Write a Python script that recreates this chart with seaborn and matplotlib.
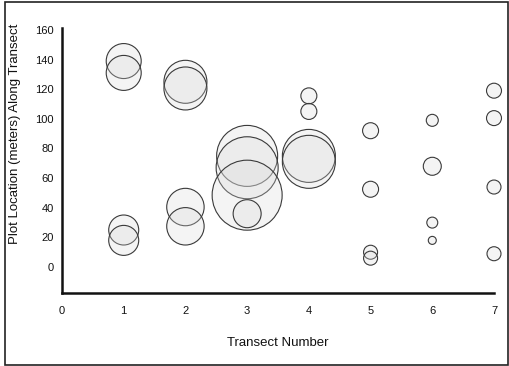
import matplotlib
matplotlib.use("Agg")
import matplotlib.pyplot as plt
from matplotlib.patches import Rectangle
import seaborn as sns
import pandas as pd

# Data
transect = [1, 1, 1, 1,
            2, 2, 2, 2,
            3, 3, 3, 3,
            4, 4, 4, 4,
            5, 5, 5, 5,
            6, 6, 6, 6,
            7, 7, 7, 7]
location = [139, 131, 25, 18,
            125, 120.5, 40.5, 27.5,
            75, 67, 48.5, 36,
            75, 71, 115.5, 105,
            92, 52.5, 10, 6,
            99, 68, 30, 18,
            119, 100.5, 54, 9]
abundance = [30.6, 30.6, 22.5, 22.5,
             46.2, 46.2, 35.0, 35.0,
             93.0, 96.1, 122.5, 19.6,
             70.2, 70.2, 6.4, 6.4,
             6.4, 6.4, 4.9, 4.9,
             3.6, 8.1, 3.0, 1.6,
             5.6, 5.6, 4.9, 4.9]
x_ticks = [0, 1, 2, 3, 4, 5, 6, 7]
y_ticks = [0, 20, 40, 60, 80, 100, 120, 140, 160]

df = pd.DataFrame({"transect": transect, "location": location, "abundance": abundance})

sns.set_theme(style="white")
plt.rcParams['font.family'] = ['Liberation Sans', 'DejaVu Sans']

fig = plt.figure(figsize=(5.09, 3.66), dpi=100)
ax = fig.add_axes([62/509, 1 - 293/366, (494-62)/509, (293-28)/366])

vmax = max(abundance)
sns.scatterplot(data=df, x="transect", y="location", size="abundance",
                sizes=(0, 2.0736 * 10 * vmax), size_norm=(0, vmax),
                legend=False, ax=ax, clip_on=False,
                color=(0.85, 0.85, 0.85, 0.28), edgecolor="#3a3a3a",
                linewidth=0.8)

ax.set_xlim(0, 7)
ax.set_ylim(-17.5, 161.3)
ax.set_xticks(x_ticks)
ax.set_yticks(y_ticks)
ax.set_xticklabels([str(v) for v in x_ticks])
ax.set_yticklabels([str(v) for v in y_ticks])

for s in ["top", "right"]:
    ax.spines[s].set_visible(False)
for s in ["left", "bottom"]:
    ax.spines[s].set_linewidth(1.8)
    ax.spines[s].set_color("#111111")

ax.tick_params(axis="both", which="major", direction="out", length=3, width=1.2,
               color="#111111", labelsize=8, labelcolor="#111111")
ax.tick_params(axis="x", pad=6)
ax.tick_params(axis="y", pad=3)

ax.set_xlabel("Transect Number", fontsize=9.5, color="#111111")
ax.set_ylabel("Plot Location (meters) Along Transect", fontsize=9.5, color="#111111")
ax.xaxis.set_label_coords(0.5, -0.165)
ax.yaxis.set_label_coords(-0.095, 0.6)
ax.grid(False)

# Figure border
fig.patches.append(Rectangle((5/509, 1/366), 503/509, 363/366, transform=fig.transFigure,
                             fill=False, edgecolor="#222222", linewidth=1.2))

fig.savefig("out.png", dpi=100)
